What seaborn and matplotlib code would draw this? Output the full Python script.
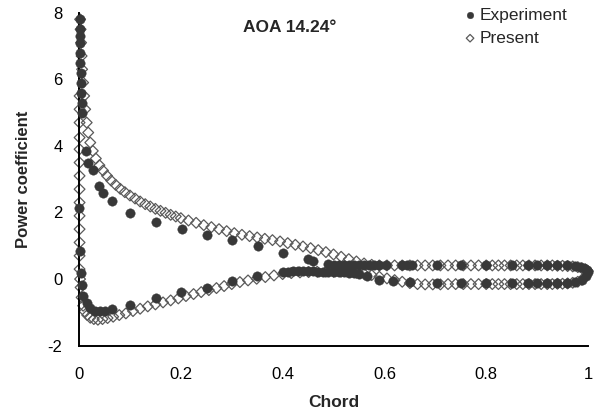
import numpy as np
import pandas as pd
import matplotlib
matplotlib.use('Agg')
import matplotlib.pyplot as plt
import seaborn as sns


# Experiment, upper curve (suction side, leading edge -> trailing edge)
exp_upper_x = [0.001, 0.001, 0.0015, 0.002, 0.002, 0.0025, 0.003, 0.003, 0.004, 0.005, 0.006,
               0.0138, 0.018, 0.027, 0.040, 0.048, 0.064, 0.100, 0.151, 0.202, 0.251, 0.300,
               0.352, 0.401, 0.450, 0.460, 0.490, 0.500, 0.510, 0.520, 0.530, 0.540, 0.550,
               0.560, 0.570, 0.580, 0.590, 0.604, 0.635, 0.645, 0.655, 0.703, 0.750, 0.800,
               0.850, 0.882, 0.900, 0.920, 0.940, 0.958, 0.975, 0.985, 0.993, 0.998, 1.000]
exp_upper_y = [7.80, 7.50, 7.30, 7.10, 6.80, 6.50, 6.20, 5.90, 5.60, 5.30, 5.00,
               3.84, 3.50, 3.29, 2.79, 2.59, 2.36, 1.97, 1.71, 1.49, 1.31, 1.16,
               0.98, 0.79, 0.61, 0.53, 0.44, 0.42, 0.41, 0.41, 0.41, 0.41, 0.41,
               0.41, 0.41, 0.41, 0.41, 0.41, 0.41, 0.41, 0.41, 0.42, 0.42, 0.42,
               0.42, 0.42, 0.42, 0.42, 0.42, 0.41, 0.39, 0.36, 0.32, 0.27, 0.22]

# Experiment, lower curve
exp_lower_x = [0.0005, 0.001, 0.003, 0.005, 0.008, 0.016, 0.022, 0.031, 0.041, 0.051, 0.064,
               0.100, 0.151, 0.200, 0.251, 0.301, 0.350, 0.401, 0.410, 0.420, 0.430, 0.440,
               0.450, 0.460, 0.470, 0.480, 0.490, 0.500, 0.510, 0.520, 0.530, 0.540, 0.550,
               0.565, 0.590, 0.617, 0.650, 0.703, 0.750, 0.800, 0.850, 0.882, 0.900, 0.920,
               0.940, 0.958, 0.975, 0.988, 0.996]
exp_lower_y = [2.14, 0.84, 0.19, -0.17, -0.52, -0.71, -0.87, -0.95, -0.97, -0.95, -0.90,
               -0.77, -0.58, -0.40, -0.27, -0.05, 0.10, 0.22, 0.22, 0.23, 0.23, 0.23,
               0.23, 0.23, 0.22, 0.22, 0.22, 0.22, 0.21, 0.20, 0.19, 0.17, 0.15,
               0.08, -0.02, -0.06, -0.10, -0.12, -0.12, -0.12, -0.12, -0.12, -0.12, -0.12,
               -0.12, -0.11, -0.08, -0.02, 0.08]

# Present, upper curve
present_upper_x = [0.002, 0.003, 0.004, 0.005, 0.006, 0.008, 0.010, 0.012, 0.015, 0.018,
                   0.022, 0.027, 0.033, 0.040, 0.047, 0.055, 0.063, 0.072, 0.081, 0.090,
                   0.100, 0.110, 0.120, 0.130, 0.140, 0.150, 0.160, 0.170, 0.180, 0.190,
                   0.200, 0.215, 0.230, 0.245, 0.260, 0.275, 0.290, 0.305, 0.320, 0.335,
                   0.350, 0.365, 0.380, 0.395, 0.410, 0.425, 0.440, 0.455, 0.470, 0.485,
                   0.500, 0.515, 0.530, 0.545, 0.560, 0.575, 0.590, 0.605, 0.620, 0.635,
                   0.650, 0.665, 0.680, 0.695, 0.710, 0.725, 0.740, 0.755, 0.770, 0.785,
                   0.800, 0.812, 0.824, 0.836, 0.848, 0.860, 0.872, 0.884, 0.896, 0.908,
                   0.920, 0.930, 0.940, 0.950, 0.960, 0.970, 0.980, 0.988, 0.995, 1.000]
present_upper_y = [7.80, 7.50, 7.10, 6.70, 6.30, 5.90, 5.50, 5.10, 4.70, 4.40,
                   4.10, 3.85, 3.62, 3.42, 3.26, 3.10, 2.96, 2.83, 2.71, 2.61,
                   2.51, 2.42, 2.33, 2.25, 2.18, 2.11, 2.05, 1.99, 1.93, 1.88,
                   1.83, 1.76, 1.69, 1.62, 1.56, 1.50, 1.44, 1.38, 1.33, 1.29,
                   1.25, 1.21, 1.17, 1.13, 1.08, 1.03, 0.98, 0.93, 0.87, 0.81,
                   0.74, 0.67, 0.60, 0.53, 0.47, 0.43, 0.41, 0.41, 0.41, 0.41,
                   0.41, 0.41, 0.41, 0.41, 0.41, 0.41, 0.41, 0.41, 0.41, 0.41,
                   0.41, 0.41, 0.41, 0.41, 0.41, 0.41, 0.41, 0.41, 0.41, 0.41,
                   0.41, 0.41, 0.40, 0.40, 0.39, 0.38, 0.36, 0.33, 0.29, 0.24]

# Present, lower curve (leading edge column first)
present_lower_x = [0.001, 0.001, 0.001, 0.001, 0.001, 0.001, 0.001, 0.001, 0.001, 0.001,
                   0.001, 0.001, 0.001, 0.001, 0.002, 0.003, 0.005, 0.008, 0.011, 0.016,
                   0.022, 0.029, 0.037, 0.046, 0.056, 0.067, 0.079, 0.092, 0.106, 0.120,
                   0.135, 0.150, 0.165, 0.180, 0.195, 0.210, 0.225, 0.240, 0.255, 0.270,
                   0.285, 0.300, 0.316, 0.332, 0.349, 0.366, 0.383, 0.400, 0.417, 0.434,
                   0.451, 0.468, 0.485, 0.500, 0.515, 0.530, 0.545, 0.560, 0.575, 0.590,
                   0.605, 0.620, 0.635, 0.650, 0.665, 0.680, 0.695, 0.710, 0.725, 0.740,
                   0.755, 0.770, 0.785, 0.800, 0.812, 0.824, 0.836, 0.848, 0.860, 0.872,
                   0.884, 0.896, 0.908, 0.920, 0.930, 0.940, 0.950, 0.960, 0.970, 0.980,
                   0.988, 0.995]
present_lower_y = [5.50, 5.10, 4.70, 4.25, 3.90, 3.50, 3.10, 2.70, 2.30, 1.90,
                   1.50, 1.10, 0.70, 0.30, 0.00, -0.25, -0.55, -0.80, -0.97, -1.08,
                   -1.16, -1.20, -1.22, -1.20, -1.17, -1.13, -1.08, -1.03, -0.96, -0.89,
                   -0.82, -0.76, -0.70, -0.64, -0.58, -0.51, -0.45, -0.39, -0.33, -0.27,
                   -0.21, -0.15, -0.09, -0.04, 0.01, 0.06, 0.11, 0.15, 0.18, 0.20,
                   0.21, 0.22, 0.22, 0.22, 0.22, 0.21, 0.19, 0.16, 0.12, 0.07,
                   0.02, -0.03, -0.08, -0.12, -0.15, -0.16, -0.16, -0.16, -0.15, -0.15,
                   -0.15, -0.15, -0.15, -0.15, -0.15, -0.15, -0.15, -0.15, -0.15, -0.15,
                   -0.15, -0.15, -0.15, -0.15, -0.15, -0.14, -0.14, -0.13, -0.11, -0.08,
                   -0.02, 0.08]

x_ticks = [0, 0.2, 0.4, 0.6, 0.8, 1]
x_tick_labels = ['0', '0.2', '0.4', '0.6', '0.8', '1']
y_ticks = [-2, 0, 2, 4, 6, 8]
y_tick_labels = ['-2', '0', '2', '4', '6', '8']

exp_df = pd.DataFrame({'chord': exp_upper_x + exp_lower_x,
                       'cp': exp_upper_y + exp_lower_y})
present_df = pd.DataFrame({'chord': present_upper_x + present_lower_x,
                           'cp': present_upper_y + present_lower_y})

sns.set_style('white')
plt.rcParams['font.family'] = ['Liberation Sans', 'DejaVu Sans']

fig = plt.figure(figsize=(5.99, 4.16), dpi=100)
ax = fig.add_axes([0.132, 0.169, 0.8496, 0.8005])

sns.scatterplot(data=exp_df, x='chord', y='cp', ax=ax, marker='o', s=46,
                color='#383838', edgecolor='#383838', linewidth=0.3,
                label='Experiment', zorder=3, clip_on=False)
sns.scatterplot(data=present_df, x='chord', y='cp', ax=ax, marker='D', s=30,
                facecolor='none', edgecolor='#5a5a5a', linewidth=0.9,
                label='Present', zorder=2, clip_on=False)

ax.set_xlim(0, 1)
ax.set_ylim(-2, 8)
ax.set_xticks(x_ticks)
ax.set_xticklabels(x_tick_labels)
ax.set_yticks(y_ticks)
ax.set_yticklabels(y_tick_labels)

for side in ['top', 'right']:
    ax.spines[side].set_visible(False)
for side in ['left', 'bottom']:
    ax.spines[side].set_color('black')
    ax.spines[side].set_linewidth(1.4)

ax.tick_params(axis='both', direction='out', length=5, width=1.3, color='black',
               labelsize=12, pad=7, labelcolor='black')
ax.tick_params(axis='x', pad=10)

ax.set_xlabel('Chord', fontsize=12.5, fontweight='bold', labelpad=10)
ax.set_ylabel('Power coefficient', fontsize=12, fontweight='bold', labelpad=12)

ax.text(0.413, 7.56, 'AOA 14.24°', fontsize=12.5, fontweight='bold',
        ha='center', va='center')

leg = ax.legend(loc='upper left', bbox_to_anchor=(0.741, 1.036), frameon=False,
                fontsize=12.5, handlelength=0.8, handletextpad=0.15,
                labelspacing=0.45, markerscale=0.7, borderaxespad=0)

fig.savefig('out.png', dpi=100, facecolor='white')
